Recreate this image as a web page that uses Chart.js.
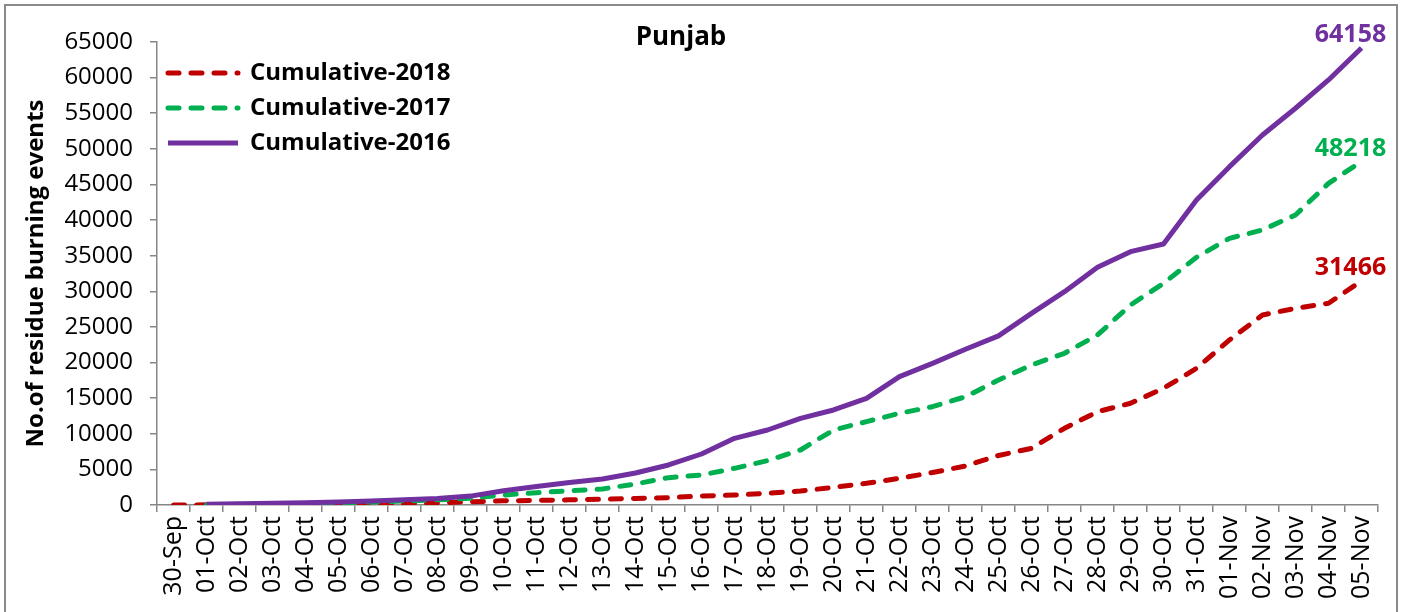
<!DOCTYPE html>
<html>
<head>
<meta charset="utf-8">
<script src="https://cdn.jsdelivr.net/npm/chart.js@4.4.0/dist/chart.umd.min.js"></script>
<style>
html,body{margin:0;padding:0;background:#fff;overflow:hidden}
#wrap{position:relative;width:1404px;height:612px}
</style>
</head>
<body>
<div id="wrap"><canvas id="c" width="1404" height="612"></canvas></div>
<script>
// ---------- data ----------
const categories = [
  '30-Sep',
  '01-Oct','02-Oct','03-Oct','04-Oct','05-Oct','06-Oct','07-Oct','08-Oct','09-Oct','10-Oct',
  '11-Oct','12-Oct','13-Oct','14-Oct','15-Oct','16-Oct','17-Oct','18-Oct','19-Oct','20-Oct',
  '21-Oct','22-Oct','23-Oct','24-Oct','25-Oct','26-Oct','27-Oct','28-Oct','29-Oct','30-Oct','31-Oct',
  '01-Nov','02-Nov','03-Nov','04-Nov','05-Nov'
];
const cumulative2018 = [
  0, 20, 40, 60, 90, 120, 170, 230, 320, 450, 580,
  650, 720, 800, 920, 1030, 1260, 1400, 1640, 1970, 2480,
  3040, 3740, 4560, 5480, 6950, 7960, 10770, 13100, 14280, 16380, 19190,
  23170, 26680, 27610, 28320, 31466
];
const cumulative2017 = [
  null, 40, 90, 150, 220, 300, 420, 560, 720, 950, 1400,
  1730, 2000, 2250, 2950, 3840, 4210, 5150, 6230, 7720, 10530,
  11700, 12870, 13800, 15200, 17550, 19660, 21300, 23870, 28080, 31120, 34770,
  37440, 38610, 40720, 45160, 48218
];
const cumulative2016 = [
  null, 100, 170, 250, 330, 430, 560, 720, 900, 1250, 2000,
  2600, 3150, 3650, 4500, 5620, 7160, 9360, 10530, 12170, 13340,
  14980, 18020, 19890, 21860, 23750, 26910, 29950, 33370, 35565, 36644, 42822,
  47500, 51948, 55700, 59670, 64158
];
const seriesNames = ['Cumulative-2018', 'Cumulative-2017', 'Cumulative-2016'];
const yTickMin = 0, yTickMax = 65000, yTickStep = 5000;
const chartTitle = 'Punjab';
const yAxisTitle = 'No.of residue burning events';

// ---------- style ----------
const FONT = 'Open Sans';
const RED = '#C00000', GREEN = '#00B050', PURPLE = '#7030A0', AXIS = '#868686';

const framePlugin = {
  id: 'frame',
  beforeDraw(chart) {
    const ctx = chart.ctx;
    ctx.save();
    ctx.fillStyle = '#fff';
    ctx.fillRect(0, 0, chart.width, chart.height);
    ctx.strokeStyle = '#8a8a8a';
    ctx.lineWidth = 2;
    ctx.strokeRect(5, 5, chart.width - 12, chart.height + 20);
    ctx.restore();
  }
};

const titlePlugin = {
  id: 'innerTitle',
  afterDraw(chart) {
    const {ctx, chartArea} = chart;
    ctx.save();
    ctx.font = 'bold 26px "' + FONT + '"';
    ctx.fillStyle = '#000';
    ctx.textAlign = 'center';
    ctx.textBaseline = 'middle';
    ctx.fillText(chartTitle, chartArea.left + 524, chartArea.top - 4);
    ctx.restore();
  }
};

const endLabelPlugin = {
  id: 'endLabels',
  afterDatasetsDraw(chart) {
    const ctx = chart.ctx;
    ctx.save();
    ctx.font = 'bold 25px "' + FONT + '"';
    ctx.textAlign = 'center';
    ctx.textBaseline = 'alphabetic';
    chart.data.datasets.forEach((ds, i) => {
      const meta = chart.getDatasetMeta(i);
      const last = ds.data.length - 1;
      const pt = meta.data[last];
      ctx.fillStyle = ds.borderColor;
      ctx.fillText(String(ds.data[last]), pt.x - 11, pt.y - 6);
    });
    ctx.restore();
  }
};

new Chart(document.getElementById('c'), {
  type: 'line',
  data: {
    labels: categories,
    datasets: [
      { label: seriesNames[0], data: cumulative2018, borderColor: RED, backgroundColor: RED,
        borderWidth: 5, borderDash: [11, 12], borderCapStyle: 'round', borderJoinStyle: 'round',
        pointRadius: 0, tension: 0, order: 3 },
      { label: seriesNames[1], data: cumulative2017, borderColor: GREEN, backgroundColor: GREEN,
        borderWidth: 5, borderDash: [11, 12], borderCapStyle: 'round', borderJoinStyle: 'round',
        pointRadius: 0, tension: 0, order: 2 },
      { label: seriesNames[2], data: cumulative2016, borderColor: PURPLE, backgroundColor: PURPLE,
        borderWidth: 5, borderCapStyle: 'butt', borderJoinStyle: 'round',
        pointRadius: 0, tension: 0, order: 1 }
    ]
  },
  options: {
    responsive: false,
    animation: false,
    devicePixelRatio: 1,
    layout: { padding: { top: 42, right: 26, bottom: 0, left: 0 } },
    plugins: {
      tooltip: { enabled: false },
      title: { display: false },
      legend: {
        position: 'chartArea',
        align: 'start',
        title: { display: true, text: ' ', font: { size: 50, lineHeight: 1 }, padding: 0 },
        labels: {
          usePointStyle: true,
          pointStyle: 'line',
          pointStyleWidth: 70,
          padding: 11,
          color: '#000',
          font: { family: FONT, size: 24, weight: 'bold' },
          generateLabels(chart) {
            return chart.data.datasets.map((ds, i) => ({
              text: ds.label,
              strokeStyle: ds.borderColor,
              fillStyle: ds.borderColor,
              fontColor: '#000',
              lineWidth: 5,
              lineDash: ds.borderDash || [],
              lineCap: ds.borderDash ? 'round' : 'butt',
              pointStyle: 'line',
              hidden: false,
              datasetIndex: i
            }));
          }
        }
      }
    },
    scales: {
      x: {
        offset: true,
        grid: { offset: true, drawOnChartArea: false, drawTicks: true, tickLength: 7, color: AXIS, lineWidth: 1.5 },
        border: { display: true, color: AXIS, width: 1.5 },
        ticks: { autoSkip: false, minRotation: 90, maxRotation: 90, padding: 4, color: '#000',
                 font: { family: FONT, size: 25 } },
        afterFit(s) { s.height = 107; }
      },
      y: {
        min: yTickMin,
        max: yTickMax,
        grid: { drawOnChartArea: false, drawTicks: true, tickLength: 7, color: AXIS, lineWidth: 1.5 },
        border: { display: true, color: AXIS, width: 1.5 },
        ticks: { stepSize: yTickStep, padding: 17, color: '#000', font: { family: FONT, size: 24 },
                 callback: v => String(v) },
        title: { display: true, text: yAxisTitle, color: '#000',
                 font: { family: FONT, size: 24, weight: 'bold' }, padding: { top: 22, bottom: 0 } },
        afterFit(s) { s.width = 157; }
      }
    }
  },
  plugins: [framePlugin, titlePlugin, endLabelPlugin]
});
</script>
</body>
</html>
